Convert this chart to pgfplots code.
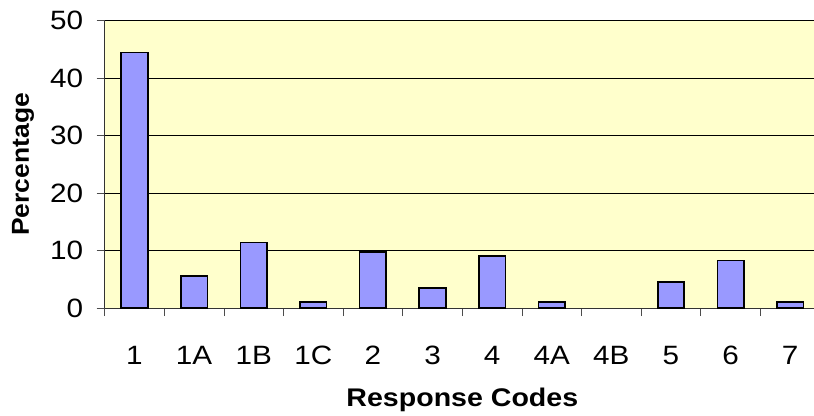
\documentclass[border=0pt]{standalone}
\usepackage{pgfplots}
\pgfplotsset{compat=1.18}
\usepackage{fontspec}
\setmainfont{Liberation Sans}[FakeStretch=1.12]
\newfontfamily\ylabfont{Liberation Sans}[FakeStretch=1.08]
\definecolor{bgyellow}{HTML}{FFFFCC}
\definecolor{barblue}{HTML}{9999FF}
\begin{document}
\begin{tikzpicture}
\begin{axis}[
  scale only axis,
  width=715.3bp, height=287.3bp,
  xmin=-0.5, xmax=11.5, ymin=0, ymax=50,
  axis background/.style={fill=bgyellow},
  axis x line=bottom, axis y line=left,
  axis line style={-, draw=black!80, line width=0.9bp},
  ytick={0,10,20,30,40,50},
  ymajorgrids, grid style={black, line width=0.9bp},
  xtick={-0.5,0.5,...,11.5},
  x tick label as interval,
  xticklabels={1,1A,1B,1C,2,3,4,4A,4B,5,6,7},
  tick align=outside,
  major tick length=8bp,
  tick style={draw=black!70, line width=0.8bp},
  /pgf/number format/assume math mode=true,
  xticklabel style={font=\fontsize{26.5bp}{30bp}\selectfont, inner sep=0pt, anchor=north, yshift=-30bp},
  yticklabel style={font=\fontsize{26.5bp}{30bp}\selectfont, inner sep=0pt, anchor=east, xshift=-13.4bp},
  every axis y label/.style={at={(axis description cs:-0.1142,0.5)}, rotate=90, anchor=center, font=\ylabfont\fontsize{24.5bp}{28bp}\selectfont\bfseries},
  every axis x label/.style={at={(axis description cs:0.5,-0.3185)}, anchor=center, font=\fontsize{25.5bp}{29bp}\selectfont\bfseries},
  xlabel={Response Codes},
  ylabel={Percentage},
]
% category 4B (x=8) has value 0 and draws no bar
\addplot[ybar, bar width=26.5bp, bar shift=0pt, fill=barblue, draw=black, line width=1.6bp]
  coordinates {(0,44.5) (1,5.6) (2,11.4) (3,1.0) (4,9.7) (5,3.5) (6,9.0) (7,1.0) (9,4.5) (10,8.3) (11,1.0)};
\end{axis}
\pgfresetboundingbox
\path[use as bounding box] (-104.7bp,-108bp) rectangle (709.3bp,308bp);
\end{tikzpicture}
\end{document}
